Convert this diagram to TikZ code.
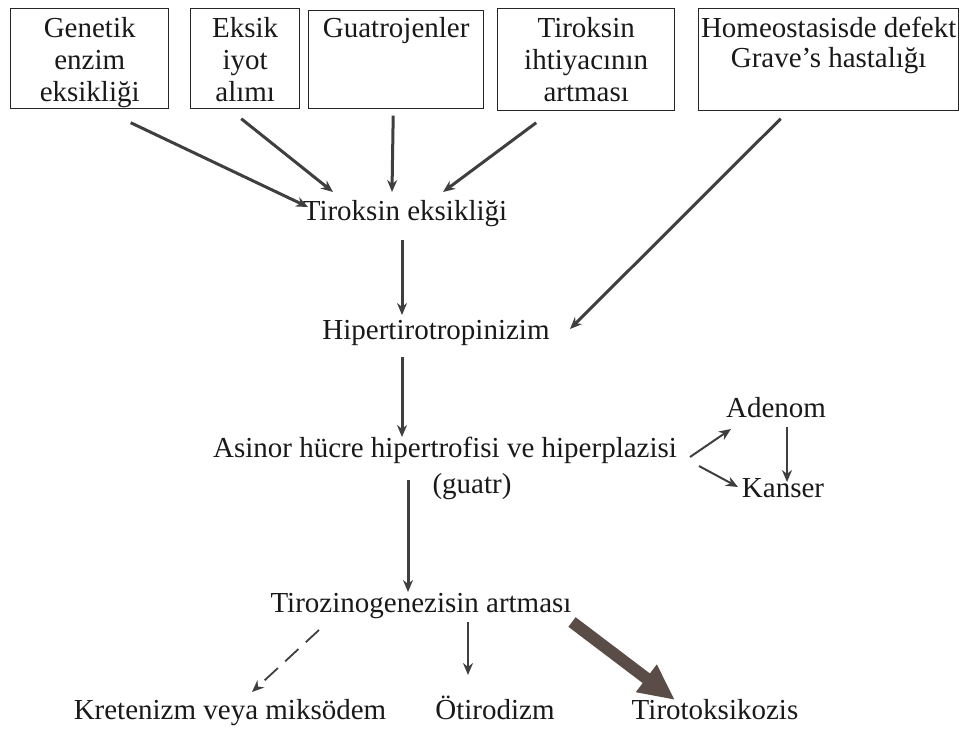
\documentclass[tikz,border=0pt]{standalone}
\usepackage{fontspec}
\setmainfont{Liberation Serif}
\usepackage{xcolor}
\usepackage{tikz}
\usetikzlibrary{arrows.meta, positioning}

\definecolor{inkgray}{HTML}{3F3F3F}
\definecolor{thickbrown}{HTML}{5A4D47}

\begin{document}
\begin{tikzpicture}[
    x=0.5pt, y=-0.5pt,
    >={Stealth[length=6pt, width=5pt]},
    every node/.style={align=center, font=\fontsize{14.5}{16}\selectfont, text=black!90}
]

\tikzset{
    causebox/.style={draw=black!85, line width=0.7pt, rectangle, anchor=north west, inner sep=0pt},
    boxtext/.style={anchor=north, inner sep=4.5pt},
    stagetext/.style={inner sep=1pt, text height=13pt, text depth=3.5pt},
    flowarrow/.style={->, line width=1.5pt, draw=inkgray},
    thinarrow/.style={->, line width=1pt, draw=inkgray},
    dashedarrow/.style={->, line width=0.9pt, draw=inkgray, dash pattern=on 9pt off 5pt},
    bigarrow/.style={-{Triangle[length=18pt, width=16pt]}, line width=6pt, draw=thickbrown}
}

\useasboundingbox (0,0) rectangle (960,740);

% causes
\node [causebox, minimum width=79pt, minimum height=50pt] (gen) at (10,8) {};
\node [boxtext] (gentxt) at (gen.north) {Genetik\\enzim\\eksikliği};

\node [causebox, minimum width=54.5pt, minimum height=50pt] (eks) at (190,8) {};
\node [boxtext] (ekstxt) at (eks.north) {Eksik\\iyot\\alımı};

\node [causebox, minimum width=87.5pt, minimum height=49pt] (gua) at (308,10) {};
\node [boxtext, inner sep=3.5pt] (guatxt) at (gua.north) {Guatrojenler};

\node [causebox, minimum width=88.5pt, minimum height=51pt] (tir) at (497,8) {};
\node [boxtext] (tirtxt) at (tir.north) {Tiroksin\\ihtiyacının\\artması};

\node [causebox, minimum width=130pt, minimum height=51pt] (hom) at (698,8) {};
\node [boxtext, inner sep=1pt, yshift=-3.5pt, font=\fontsize{14.5}{15}\selectfont] (homtxt) at (hom.north) {Homeostasisde defekt\\Grave’s hastalığı};

% stages
\node [stagetext] (tiroks) at (405,211) {Tiroksin eksikliği};
\node [stagetext] (hiper) at (436,330) {Hipertirotropinizim};
\node [stagetext] (asinor) at (445,448) {Asinor hücre hipertrofisi ve hiperplazisi};
\node [stagetext] (guatr) at (472,484) {(guatr)};
\node [stagetext] (adenom) at (776,408) {Adenom};
\node [stagetext] (kanser) at (783,488) {Kanser};
\node [stagetext] (tirozin) at (421,603) {Tirozinogenezisin artması};

% outcomes
\node [stagetext] (kreten) at (230,710) {Kretenizm veya miksödem};
\node [stagetext] (otiro) at (495,710) {Ötirodizm};
\node [stagetext] (tiroto) at (715,710) {Tirotoksikozis};

\draw [flowarrow] ([shift={(41,64)}]gen.center) -- ([shift={(-97,-4)}]tiroks.center);
\draw [flowarrow] ([shift={(-4,60)}]eks.center) -- ([shift={(-72,-19)}]tiroks.center);
\draw [flowarrow] ([shift={(-3,56)}]gua.center) -- ([shift={(-13,-19)}]tiroks.center);
\draw [flowarrow] ([shift={(-50,63)}]tir.center) -- ([shift={(38,-19)}]tiroks.center);
\draw [flowarrow] ([shift={(-48,59)}]hom.center) -- ([shift={(134,-1)}]hiper.center);

\draw [flowarrow] ([shift={(-3,29)}]tiroks.center) -- ([shift={(-34,-15)}]hiper.center);
\draw [flowarrow] ([shift={(-34,27)}]hiper.center) -- ([shift={(-43,-11)}]asinor.center);
\draw [flowarrow] ([shift={(-37,32)}]asinor.center) -- ([shift={(-13,-11)}]tirozin.center);

\draw [thinarrow] ([shift={(245,9)}]asinor.center) -- ([shift={(-45,21)}]adenom.center);
\draw [thinarrow] ([shift={(254,18)}]asinor.center) -- ([shift={(-45,-1)}]kanser.center);
\draw [flowarrow, line width=1.2pt] ([shift={(11,19)}]adenom.center) -- ([shift={(4,-6)}]kanser.center);

\draw [dashedarrow] ([shift={(-102,27)}]tirozin.center) -- ([shift={(22,-18)}]kreten.center);
\draw [thinarrow] ([shift={(47,19)}]tirozin.center) -- ([shift={(-27,-35)}]otiro.center);
\draw [bigarrow] ([shift={(151,19)}]tirozin.center) -- ([shift={(-40,-10)}]tiroto.center);

\end{tikzpicture}
\end{document}
